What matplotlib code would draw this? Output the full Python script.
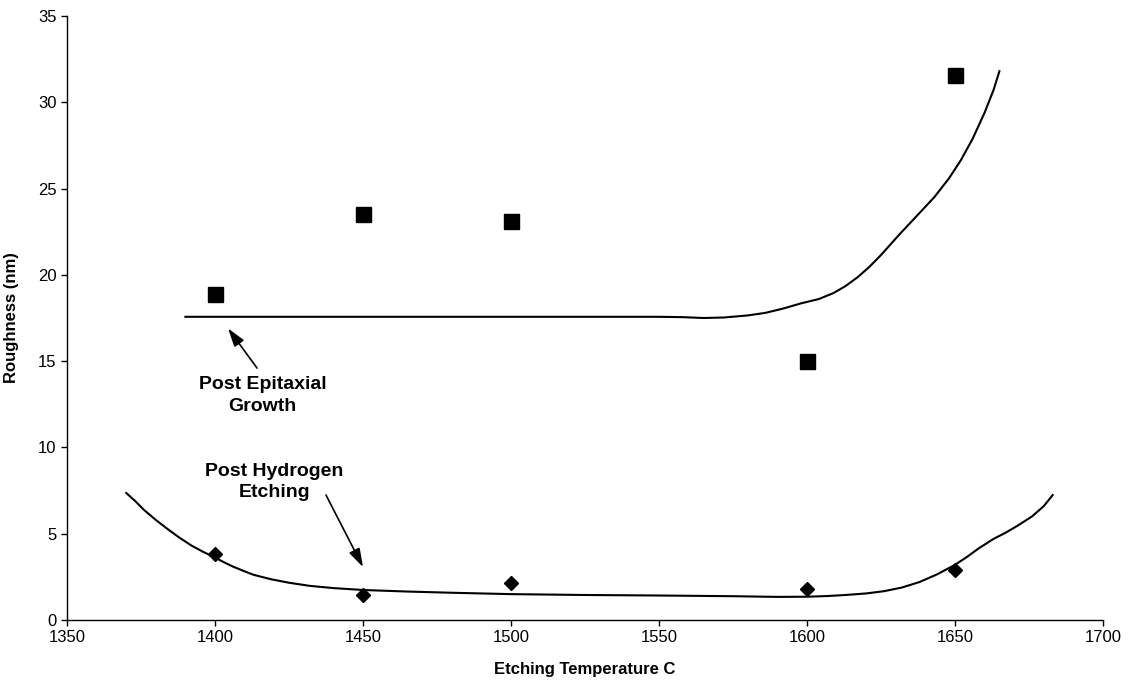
import matplotlib
matplotlib.use('Agg')
import matplotlib.pyplot as plt

plt.rcParams['font.family'] = ['Liberation Sans', 'DejaVu Sans']

# measured points
temps = [1400, 1450, 1500, 1600, 1650]
epi_rough = [18.9, 23.5, 23.1, 15.0, 31.6]
h2_rough = [3.8, 1.45, 2.15, 1.8, 2.9]

# trend curves
epi_fit_t = [1390, 1450, 1500, 1550, 1558, 1565, 1572, 1580, 1586, 1592, 1598, 1604, 1609,
             1613, 1617, 1621, 1625, 1631, 1637, 1643, 1648, 1652, 1656, 1660, 1663, 1665]
epi_fit_r = [17.57, 17.57, 17.57, 17.57, 17.55, 17.5, 17.53, 17.65, 17.8, 18.05, 18.35, 18.6, 18.95,
             19.35, 19.85, 20.45, 21.15, 22.3, 23.4, 24.5, 25.6, 26.65, 27.9, 29.4, 30.7, 31.8]

h2_fit_t = [1370, 1373, 1376, 1380, 1384, 1388, 1392, 1396, 1400, 1403, 1406, 1410, 1413, 1419,
            1425, 1432, 1440, 1450, 1465, 1480, 1500, 1525, 1550, 1575, 1590, 1600, 1607,
            1613, 1620, 1626, 1632, 1638, 1644, 1650, 1654, 1658, 1663, 1667, 1671, 1676, 1680, 1683]
h2_fit_r = [7.36, 6.9, 6.38, 5.8, 5.27, 4.77, 4.32, 3.95, 3.62, 3.35, 3.1, 2.82, 2.62, 2.36,
            2.16, 1.98, 1.85, 1.74, 1.65, 1.58, 1.5, 1.45, 1.42, 1.38, 1.34, 1.35, 1.39,
            1.45, 1.54, 1.67, 1.88, 2.2, 2.65, 3.2, 3.65, 4.15, 4.7, 5.05, 5.45, 6.0, 6.6, 7.24]

fig = plt.figure(figsize=(11.3, 6.87), dpi=100)
ax = fig.add_axes([0.0593, 0.0975, 0.9168, 0.8792])

ax.plot(epi_fit_t, epi_fit_r, color='black', lw=1.5)
ax.plot(h2_fit_t, h2_fit_r, color='black', lw=1.5)
ax.plot(temps, epi_rough, 's', color='black', ms=10.8, ls='none')
ax.plot(temps, h2_rough, 'D', color='black', ms=7.6, ls='none')

ax.set_xlim(1350, 1700)
ax.set_ylim(0, 35)
ax.set_xticks(range(1350, 1701, 50))
ax.set_yticks(range(0, 36, 5))
ax.tick_params(direction='out', length=4, width=1, labelsize=12, colors='black')
for s in ['top', 'right']:
    ax.spines[s].set_visible(False)
for s in ['left', 'bottom']:
    ax.spines[s].set_linewidth(1)

ax.set_xlabel('Etching Temperature C', fontsize=12, fontweight='bold', labelpad=12)
ax.set_ylabel('Roughness (nm)', fontsize=12, fontweight='bold', labelpad=14)

arrow = dict(arrowstyle='-|>,head_length=0.7,head_width=0.22', color='black', lw=1.2,
             mutation_scale=16, shrinkA=0, shrinkB=0)
ax.annotate('', xy=(1404.4, 16.9), xytext=(1414.2, 14.6), arrowprops=arrow)
ax.annotate('', xy=(1450, 3.07), xytext=(1437.5, 7.24), arrowprops=arrow)

ax.text(1416, 13.0, 'Post Epitaxial\nGrowth', ha='center', va='center',
        fontsize=14, fontweight='bold', linespacing=1.35)
ax.text(1420, 8.0, 'Post Hydrogen\nEtching', ha='center', va='center',
        fontsize=14, fontweight='bold', linespacing=1.35)

fig.savefig('out.png', dpi=100)
